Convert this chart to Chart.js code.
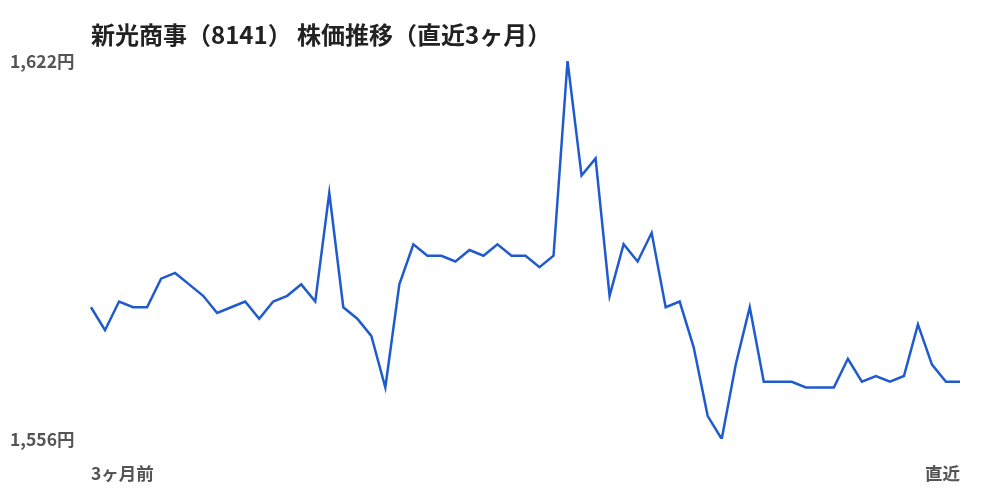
<!DOCTYPE html>
<html>
<head>
<meta charset="utf-8">
<script src="https://cdn.jsdelivr.net/npm/chart.js@4"></script>
<style>
  html, body { margin: 0; padding: 0; background: #fff; }
  #wrap { width: 1000px; height: 500px; }
</style>
</head>
<body>
<div id="wrap"><canvas id="chart"></canvas></div>
<script>
const titleText = '新光商事（8141） 株価推移（直近3ヶ月）';
const prices = [
  1579, 1575, 1580, 1579, 1579, 1584, 1585, 1583, 1581, 1578,
  1579, 1580, 1577, 1580, 1581, 1583, 1580, 1599, 1579, 1577,
  1574, 1565, 1583, 1590, 1588, 1588, 1587, 1589, 1588, 1590,
  1588, 1588, 1586, 1588, 1622, 1602, 1605, 1581, 1590, 1587,
  1592, 1579, 1580, 1572, 1560, 1556, 1569, 1579, 1566, 1566,
  1566, 1565, 1565, 1565, 1570, 1566, 1567, 1566, 1567, 1576,
  1569, 1566, 1566
];
const categories = prices.map((_, i) => i);
const xTickLabels = ['3ヶ月前', '直近'];
const yTicks = [1556, 1622];

const FONT = '"Noto Sans CJK JP", "Noto Sans", sans-serif';

const titlePlugin = {
  id: 'leftTitle',
  afterDraw(chart) {
    const ctx = chart.ctx;
    ctx.save();
    ctx.font = 'bold 24px ' + FONT;
    ctx.fillStyle = '#222';
    ctx.textBaseline = 'middle';
    ctx.textAlign = 'left';
    ctx.fillText(titleText, chart.chartArea.left, 35);
    ctx.restore();
  }
};

const ctx = document.getElementById('chart').getContext('2d');
new Chart(ctx, {
  type: 'line',
  data: {
    labels: categories,
    datasets: [{
      data: prices,
      borderColor: '#1f5bcc',
      borderWidth: 2.5,
      pointRadius: 0,
      tension: 0,
      fill: false
    }]
  },
  options: {
    responsive: true,
    maintainAspectRatio: false,
    animation: false,
    layout: { padding: { top: 61, left: 10, right: 40, bottom: 0 } },
    plugins: {
      legend: { display: false },
      tooltip: { enabled: false }
    },
    scales: {
      x: {
        grid: { display: false, drawTicks: false },
        border: { display: false },
        afterFit: (s) => { s.height = 61; },
        ticks: {
          autoSkip: false,
          maxRotation: 0,
          align: 'inner',
          padding: 24,
          color: '#555',
          font: { family: FONT, size: 17.5, weight: 'bold' },
          callback: (v, i) => i === 0 ? xTickLabels[0] : (i === prices.length - 1 ? xTickLabels[1] : '')
        }
      },
      y: {
        min: yTicks[0],
        max: yTicks[1],
        grid: { display: false, drawTicks: false },
        border: { display: false },
        afterBuildTicks: (s) => { s.ticks = yTicks.map(v => ({ value: v })); },
        afterFit: (s) => { s.width = 81; },
        ticks: {
          crossAlign: 'far',
          padding: 0,
          color: '#555',
          font: { family: FONT, size: 17.5, weight: 'bold' },
          callback: (v) => v.toLocaleString('en-US') + '円'
        }
      }
    }
  },
  plugins: [titlePlugin]
});
</script>
</body>
</html>
